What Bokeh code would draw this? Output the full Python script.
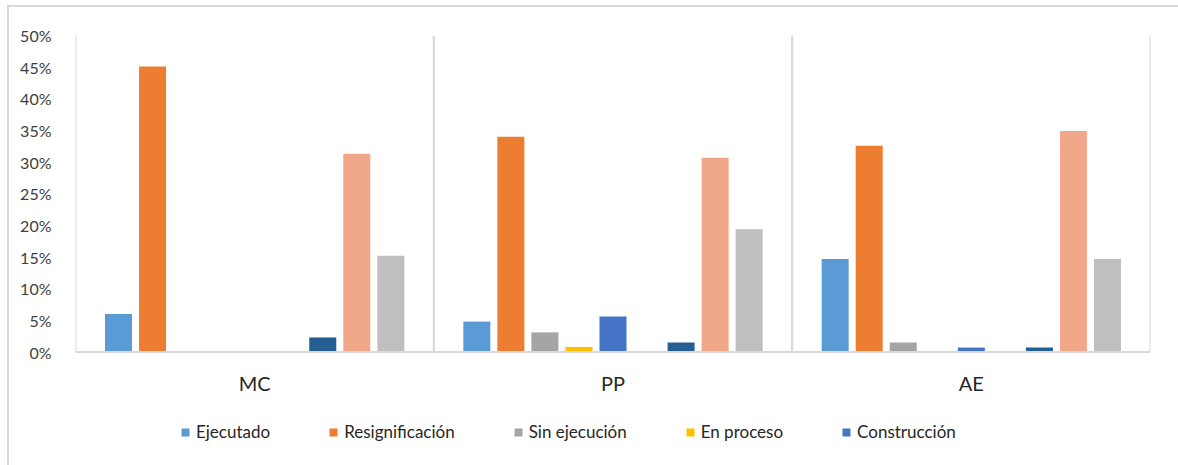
from bokeh.plotting import figure
from bokeh.models import (ColumnDataSource, FactorRange, Range1d, FixedTicker,
                          NumeralTickFormatter, Span, Legend, LegendItem)
from bokeh.core.properties import value
from bokeh.transform import dodge
from bokeh.embed import file_html
from bokeh.resources import INLINE

categories = ["MC", "PP", "AE"]
ejecutado = [0.060, 0.048, 0.147]
resignificacion = [0.451, 0.340, 0.326]
sin_ejecucion = [0.0, 0.031, 0.015]
en_proceso = [0.0, 0.008, 0.0]
construccion = [0.0, 0.056, 0.007]
serie_6 = [0.0, 0.0, 0.0]
serie_7 = [0.023, 0.015, 0.007]
serie_8 = [0.313, 0.307, 0.349]
serie_9 = [0.152, 0.194, 0.147]
y_ticks = [0, 0.05, 0.10, 0.15, 0.20, 0.25, 0.30, 0.35, 0.40, 0.45, 0.50]
y_max = 0.5

series = [
    ("Ejecutado", ejecutado, "#5B9BD5", True),
    ("Resignificación", resignificacion, "#ED7D31", True),
    ("Sin ejecución", sin_ejecucion, "#A5A5A5", True),
    ("En proceso", en_proceso, "#FFC000", True),
    ("Construcción", construccion, "#4472C4", True),
    ("Serie 6", serie_6, "#70AD47", False),
    ("Serie 7", serie_7, "#255E91", False),
    ("Serie 8", serie_8, "#F1A88A", False),
    ("Serie 9", serie_9, "#BFBFBF", False),
]

data = {"cat": categories, "base": [0.0] * 3, "top": [y_max] * 3,
        "label_y": [-0.049] * 3}
for i, (name, vals, _, _) in enumerate(series):
    data[f"s{i}"] = vals
source = ColumnDataSource(data)

FONT = "Lato"
TXT = "#404040"
GRID = "#D9D9D9"

p = figure(x_range=FactorRange(*categories), y_range=Range1d(-0.1793, y_max),
           width=1178, height=465, output_backend="svg", toolbar_location=None,
           x_axis_location=None,
           min_border_left=75, min_border_right=28, min_border_top=35,
           min_border_bottom=0)
p.outline_line_color = None
p.xgrid.grid_line_color = None
p.ygrid.grid_line_color = None
p.border_fill_color = None
p.styles = {
    "background-image": f"linear-gradient({GRID},{GRID}), linear-gradient({GRID},{GRID})",
    "background-size": "100% 2px, 2px 100%",
    "background-position": "8px 5px, 7px 5px",
    "background-repeat": "no-repeat",
}

# category separators
for off in (-0.5, 0.5):
    p.segment(x0=dodge("cat", off, range=p.x_range), y0="base",
              x1=dodge("cat", off, range=p.x_range), y1="top",
              source=source, line_color=GRID, line_width=2)

slot = 0.095
bw = 0.0754
items = []
for i, (name, vals, color, show) in enumerate(series):
    r = p.vbar(x=dodge("cat", (i - 4) * slot, range=p.x_range), top=f"s{i}",
               width=bw, source=source, fill_color=color, line_color=None)
    if show:
        items.append(LegendItem(label=name, renderers=[r]))

# x axis line
p.add_layout(Span(location=0, dimension="width", line_color=GRID, line_width=2))

# category labels
p.text(x="cat", y="label_y", text="cat", source=source,
       text_font=value(FONT), text_font_size="20px", text_color="#262626",
       text_align="center", text_baseline="middle")

p.yaxis.ticker = FixedTicker(ticks=y_ticks)
p.yaxis.formatter = NumeralTickFormatter(format="0%")
p.yaxis.axis_line_color = None
p.yaxis.major_tick_line_color = None
p.yaxis.minor_tick_line_color = None
p.yaxis.major_label_text_font = FONT
p.yaxis.major_label_text_font_size = "16px"
p.yaxis.major_label_text_color = TXT
p.yaxis.major_label_standoff = 18

legend = Legend(items=items, orientation="horizontal", location=(105, 23),
                glyph_width=10, glyph_height=10, label_standoff=6, spacing=58,
                label_text_font=FONT, label_text_font_size="17px",
                label_text_color="#262626", border_line_color=None,
                background_fill_alpha=0, margin=0, padding=0)
p.add_layout(legend, "center")

open("out.html", "w").write(file_html(p, INLINE))
